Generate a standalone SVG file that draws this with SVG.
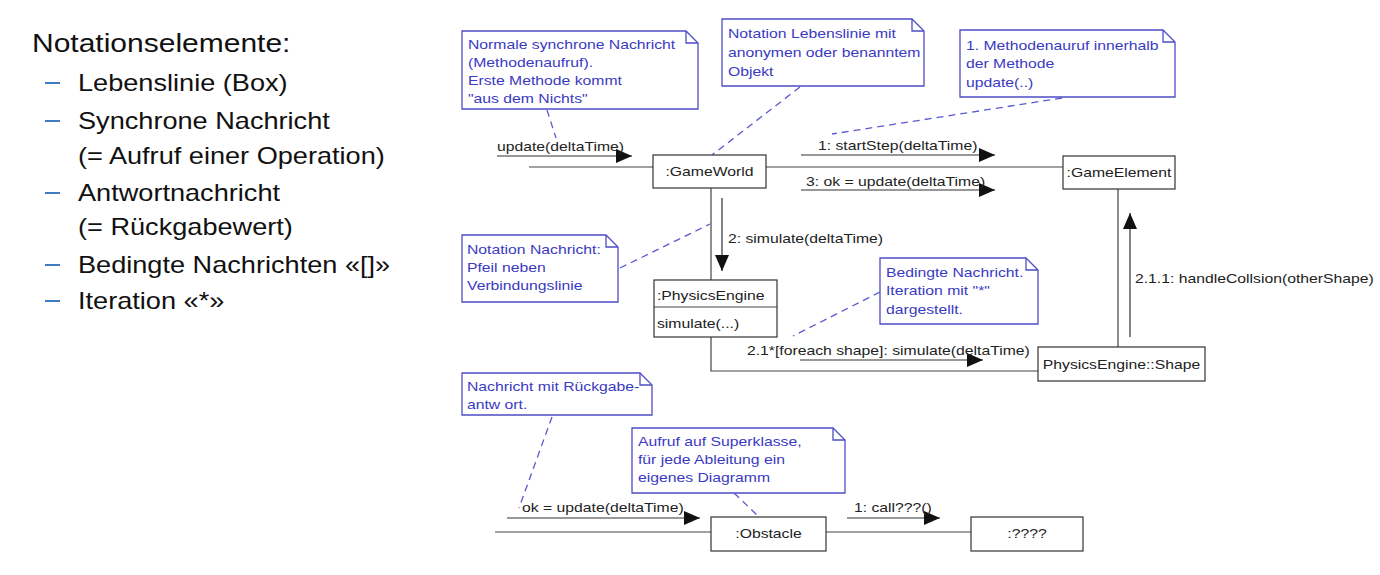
<svg xmlns="http://www.w3.org/2000/svg" width="1380" height="575" viewBox="0 0 1380 575">
<style>
.lt{font-family:"Liberation Sans",Arial,sans-serif;fill:#111}
.h{font-size:25px}
.b{font-size:23px}
.dash{stroke:#3f7cc4;stroke-width:2}
.t{font-family:"Liberation Sans",Arial,sans-serif;font-size:12.5px;fill:#222}
.nt{font-family:"Liberation Sans",Arial,sans-serif;font-size:12.5px;fill:#3a3ac2}
.node{fill:#fff;stroke:#333;stroke-width:1.2}
.ln{fill:none;stroke:#444;stroke-width:1.2}
.msg{fill:none;stroke:#333;stroke-width:1.2;marker-end:url(#ah)}
.note{fill:#fff;stroke:#4d4dc6;stroke-width:1.3}
.fold{fill:none;stroke:#4d4dc6;stroke-width:1.3}
.anc{fill:none;stroke:#5a5ad0;stroke-width:1.3;stroke-dasharray:7 5}
</style>
<defs>
<marker id="ah" markerUnits="userSpaceOnUse" markerWidth="17" markerHeight="15" refX="16" refY="7" orient="auto">
<path d="M0,0 L16,7 L0,14 Z" fill="#111"/>
</marker>
</defs>
<rect width="1380" height="575" fill="#fff"/>

<g id="legend">
<text class="lt h" transform="translate(32,52) scale(1.2,1)">Notationselemente:</text>
<line class="dash" x1="45" y1="83" x2="60" y2="83"/>
<line class="dash" x1="45" y1="121" x2="60" y2="121"/>
<line class="dash" x1="45" y1="193" x2="60" y2="193"/>
<line class="dash" x1="45" y1="265" x2="60" y2="265"/>
<line class="dash" x1="45" y1="301" x2="60" y2="301"/>
<text class="lt b" transform="translate(78,91) scale(1.18,1)">Lebenslinie (Box)</text>
<text class="lt b" transform="translate(78,129) scale(1.18,1)">Synchrone Nachricht</text>
<text class="lt b" transform="translate(78,164) scale(1.18,1)">(= Aufruf einer Operation)</text>
<text class="lt b" transform="translate(78,201) scale(1.18,1)">Antwortnachricht</text>
<text class="lt b" transform="translate(78,235) scale(1.18,1)">(= Rückgabewert)</text>
<text class="lt b" transform="translate(78,273) scale(1.18,1)">Bedingte Nachrichten «[]»</text>
<text class="lt b" transform="translate(78,309) scale(1.18,1)">Iteration «*»</text>
</g>

<g id="connectors">
<line class="ln" x1="529" y1="167" x2="653" y2="167"/>
<line class="ln" x1="766" y1="167" x2="1063" y2="167"/>
<line class="ln" x1="711" y1="188" x2="711" y2="280"/>
<polyline class="ln" points="711,337 711,371 1038,371"/>
<line class="ln" x1="1118" y1="189" x2="1118" y2="347"/>
<line class="ln" x1="495" y1="532" x2="711" y2="532"/>
<line class="ln" x1="826" y1="532" x2="971" y2="532"/>

<line class="msg" x1="497" y1="156" x2="632" y2="156"/>
<line class="msg" x1="801" y1="155" x2="995" y2="155"/>
<line class="msg" x1="801" y1="190" x2="995" y2="190"/>
<line class="msg" x1="722" y1="198" x2="722" y2="271"/>
<line class="msg" x1="800" y1="360" x2="983" y2="360"/>
<line class="msg" x1="1130" y1="337" x2="1130" y2="213"/>
<line class="msg" x1="507" y1="518" x2="700" y2="518"/>
<line class="msg" x1="847" y1="518" x2="940" y2="518"/>

<text class="t" transform="translate(497,151) scale(1.26,1)">update(deltaTime)</text>
<text class="t" transform="translate(818,150) scale(1.26,1)">1: startStep(deltaTime)</text>
<text class="t" transform="translate(806,186) scale(1.26,1)">3: ok = update(deltaTime)</text>
<text class="t" transform="translate(728,243) scale(1.26,1)">2: simulate(deltaTime)</text>
<text class="t" transform="translate(747,355) scale(1.26,1)">2.1*[foreach shape]: simulate(deltaTime)</text>
<text class="t" transform="translate(1135,283) scale(1.26,1)">2.1.1: handleCollsion(otherShape)</text>
<text class="t" transform="translate(522,512) scale(1.26,1)">ok = update(deltaTime)</text>
<text class="t" transform="translate(854,512) scale(1.26,1)">1: call???()</text>

<line class="anc" x1="547" y1="110" x2="556" y2="138"/>
<line class="anc" x1="800" y1="87" x2="712" y2="155"/>
<line class="anc" x1="1062" y1="98" x2="832" y2="134"/>
<line class="anc" x1="620" y1="268" x2="710" y2="224"/>
<line class="anc" x1="880" y1="292" x2="793" y2="336"/>
<line class="anc" x1="552" y1="417" x2="519" y2="508"/>
<line class="anc" x1="734" y1="493" x2="757" y2="515"/>
</g>

<g id="gameworld">
<rect class="node" x="653" y="155" width="113" height="33"/>
<text class="t" text-anchor="middle" transform="translate(709.5,176) scale(1.26,1)">:GameWorld</text>
</g>
<g id="gameelement">
<rect class="node" x="1063" y="156" width="112" height="33"/>
<text class="t" text-anchor="middle" transform="translate(1119,177) scale(1.26,1)">:GameElement</text>
</g>
<g id="physicsengine">
<rect class="node" x="654" y="280" width="123" height="57"/>
<line class="ln" x1="654" y1="307" x2="777" y2="307"/>
<text class="t" transform="translate(657,300) scale(1.26,1)">:PhysicsEngine</text>
<text class="t" transform="translate(657,328) scale(1.26,1)">simulate(...)</text>
</g>
<g id="shape">
<rect class="node" x="1038" y="347" width="167" height="34"/>
<text class="t" text-anchor="middle" transform="translate(1121.5,369) scale(1.26,1)">PhysicsEngine::Shape</text>
</g>
<g id="obstacle">
<rect class="node" x="711" y="517" width="115" height="34"/>
<text class="t" text-anchor="middle" transform="translate(768.5,538) scale(1.26,1)">:Obstacle</text>
</g>
<g id="unknown">
<rect class="node" x="971" y="517" width="112" height="34"/>
<text class="t" text-anchor="middle" transform="translate(1027,538) scale(1.26,1)">:????</text>
</g>

<g id="note1">
<path class="note" d="M462,31 H686 L698,43 V109 H462 Z"/>
<path class="fold" d="M686,31 V43 H698"/>
<text class="nt" transform="translate(468,49) scale(1.26,1)"><tspan x="0" y="0">Normale synchrone Nachricht</tspan><tspan x="0" y="18">(Methodenaufruf).</tspan><tspan x="0" y="36">Erste Methode kommt</tspan><tspan x="0" y="54">"aus dem Nichts"</tspan></text>
</g>
<g id="note2">
<path class="note" d="M722,19 H912 L924,31 V86 H722 Z"/>
<path class="fold" d="M912,19 V31 H924"/>
<text class="nt" transform="translate(728,38) scale(1.26,1)"><tspan x="0" y="0">Notation Lebenslinie mit</tspan><tspan x="0" y="19">anonymen oder benanntem</tspan><tspan x="0" y="38">Objekt</tspan></text>
</g>
<g id="note3">
<path class="note" d="M960,30 H1163 L1175,42 V97 H960 Z"/>
<path class="fold" d="M1163,30 V42 H1175"/>
<text class="nt" transform="translate(966,50) scale(1.26,1)"><tspan x="0" y="0">1. Methodenauruf innerhalb</tspan><tspan x="0" y="18.5">der Methode</tspan><tspan x="0" y="37">update(..)</tspan></text>
</g>
<g id="note4">
<path class="note" d="M462,235 H606 L618,247 V302 H462 Z"/>
<path class="fold" d="M606,235 V247 H618"/>
<text class="nt" transform="translate(467,254) scale(1.26,1)"><tspan x="0" y="0">Notation Nachricht:</tspan><tspan x="0" y="18">Pfeil neben</tspan><tspan x="0" y="36">Verbindungslinie</tspan></text>
</g>
<g id="note5">
<path class="note" d="M880,258 H1026 L1038,270 V324 H880 Z"/>
<path class="fold" d="M1026,258 V270 H1038"/>
<text class="nt" transform="translate(886,277) scale(1.26,1)"><tspan x="0" y="0">Bedingte Nachricht.</tspan><tspan x="0" y="18.5">Iteration mit "*"</tspan><tspan x="0" y="37">dargestellt.</tspan></text>
</g>
<g id="note6">
<path class="note" d="M462,373 H640 L652,385 V415 H462 Z"/>
<path class="fold" d="M640,373 V385 H652"/>
<text class="nt" transform="translate(467,391) scale(1.26,1)"><tspan x="0" y="0">Nachricht mit Rückgabe-</tspan><tspan x="0" y="18">antw ort.</tspan></text>
</g>
<g id="note7">
<path class="note" d="M632,428 H833 L845,440 V493 H632 Z"/>
<path class="fold" d="M833,428 V440 H845"/>
<text class="nt" transform="translate(638,446) scale(1.26,1)"><tspan x="0" y="0">Aufruf auf Superklasse,</tspan><tspan x="0" y="18">für jede Ableitung ein</tspan><tspan x="0" y="36">eigenes Diagramm</tspan></text>
</g>
</svg>
